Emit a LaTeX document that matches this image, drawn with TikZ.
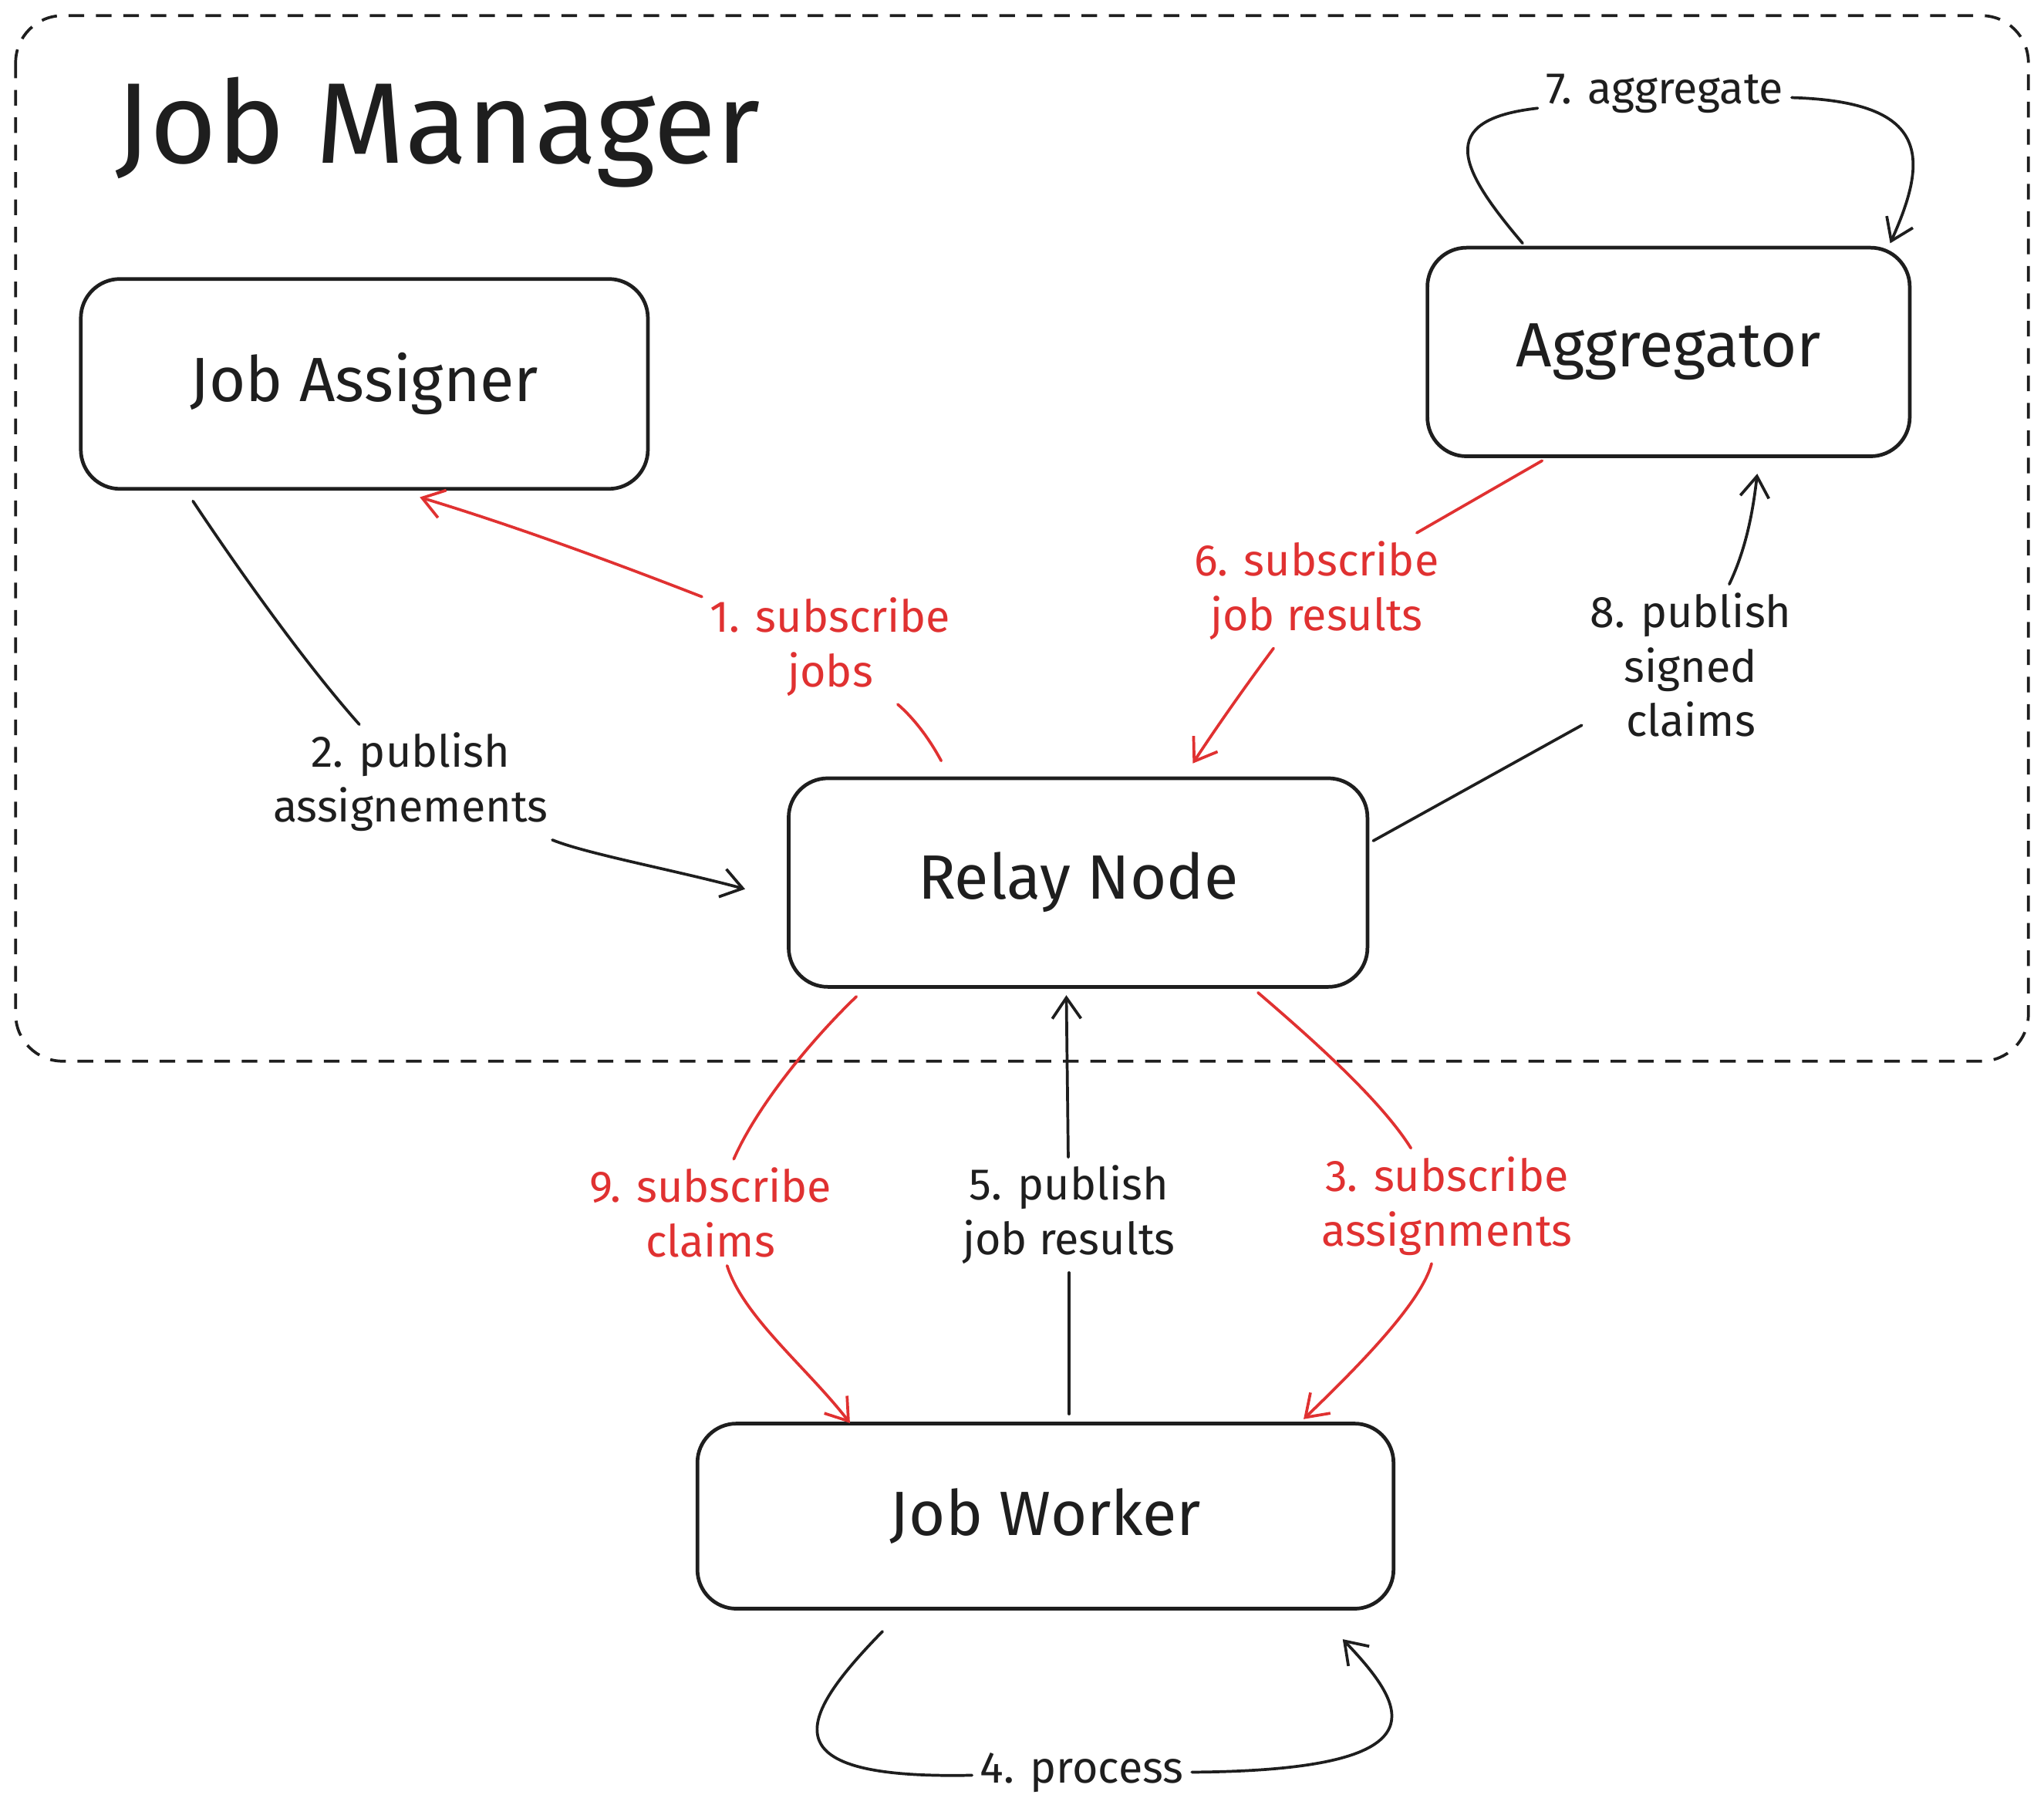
\documentclass[tikz,border=0pt]{standalone}
\usepackage{fontspec}
\setmainfont{Fira Sans}
\usetikzlibrary{arrows.meta,calc}
\definecolor{drawColor}{HTML}{1E1E1E}
\definecolor{redColor}{HTML}{E03131}

\begin{document}
\begin{tikzpicture}[x=0.5pt,y=-0.5pt,
  box/.style={draw=drawColor,line width=1.4pt,rounded corners=15pt,inner sep=0pt,
    text=drawColor,font=\fontsize{24}{28}\selectfont},
  lbl/.style={align=center,inner sep=3pt,text=drawColor,font=\fontsize{17}{21}\selectfont},
  redlbl/.style={lbl,text=redColor},
  conn/.style={draw=drawColor,line width=1.1pt,line cap=round},
  redconn/.style={conn,draw=redColor},
  tip/.style={-{Straight Barb[length=8pt,width=11pt]}}]
\path[use as bounding box] (0,0) rectangle (1568,1392);

% frame of the job manager
\draw[drawColor,line width=1.1pt,dash pattern=on 6pt off 4.5pt,rounded corners=18pt] (12,12) rectangle (1556,814);
\node[anchor=base west,inner sep=0pt,text=drawColor,font=\fontsize{44}{50}\selectfont] (title) at (88,125) {Job Manager};

% components
\node[box,minimum width=217.5pt,minimum height=80.5pt] (assigner) at (279.5,294.5) {Job Assigner};
\node[box,minimum width=185pt,minimum height=80pt] (aggregator) at (1280,270) {Aggregator};
\node[box,minimum width=222pt,minimum height=80pt] (relay) at (827,677) {Relay Node};
\node[box,minimum width=267pt,minimum height=71pt] (worker) at (802,1163) {Job Worker};

% step labels
\node[redlbl] (l1) at (637,496) {1. subscribe\\jobs};
\node[lbl] (l2) at (315,600) {2. publish\\assignements};
\node[redlbl] (l3) at (1110,925) {3. subscribe\\assignments};
\node[lbl] (l4) at (830,1360) {4. process};
\node[lbl] (l5) at (820,932) {5. publish\\job results};
\node[redlbl] (l6) at (1010,453) {6. subscribe\\job results};
\node[lbl] (l7) at (1277,72) {7. aggregate};
\node[lbl] (l8) at (1297,510) {8. publish\\signed\\claims};
\node[redlbl] (l9) at (545,930) {9. subscribe\\claims};

% end points near the boxes
\coordinate (s1) at ($(relay.north)+(-105,-12)$);
\coordinate (e1) at ($(assigner.south)+(42.5,5)$);
\coordinate (s2) at ($(assigner.south)+(-131.5,8)$);
\coordinate (e2) at ($(relay.west)+(-32,5)$);
\coordinate (s3) at ($(relay.south)+(138,3)$);
\coordinate (e3) at ($(worker.north)+(198,-2)$);
\coordinate (s4) at ($(worker.south)+(-125,16)$);
\coordinate (e4) at ($(worker.south)+(228,22)$);
\coordinate (s5) at ($(worker.north)+(18,-6)$);
\coordinate (e5) at ($(relay.south)+(-9,5)$);
\coordinate (s6) at ($(aggregator.south)+(-97,2)$);
\coordinate (e6) at ($(relay.north)+(88,-10)$);
\coordinate (s7) at ($(aggregator.north)+(-112,-2)$);
\coordinate (e7) at ($(aggregator.north)+(170,-2)$);
\coordinate (s8) at ($(relay.east)+(3,-32)$);
\coordinate (e8) at ($(aggregator.south)+(68,12)$);
\coordinate (s9) at ($(relay.south)+(-170,6)$);
\coordinate (e9) at ($(worker.north)+(-150,1)$);

% 1
\draw[redconn] (s1) .. controls (712,565) and (700,550) .. (l1);
\draw[redconn,tip] (l1) .. controls (480,435) and (400,405) .. (e1);
% 2
\draw[conn] (s2) .. controls (185,440) and (235,510) .. (l2);
\draw[conn,tip] (l2) .. controls (450,655) and (520,668) .. (e2);
% 3
\draw[redconn] (s3) .. controls (1010,800) and (1060,845) .. (l3);
\draw[redconn,tip] (l3) .. controls (1090,1000) and (1040,1050) .. (e3);
% 4
\draw[conn] (s4) .. controls (610,1320) and (590,1365) .. (l4);
\draw[conn,tip] (l4) .. controls (1110,1358) and (1080,1310) .. (e4);
% 5
\draw[conn] (s5) -- (l5);
\draw[conn,tip] (l5) -- (e5);
% 6
\draw[redconn] (s6) -- (l6);
\draw[redconn,tip] (l6) .. controls (960,520) and (935,555) .. (e6);
% 7
\draw[conn] (s7) .. controls (1120,130) and (1100,92) .. (l7);
\draw[conn,tip] (l7) .. controls (1480,78) and (1480,120) .. (e7);
% 8
\draw[conn] (s8) -- (l8);
\draw[conn,tip] (l8) .. controls (1340,420) and (1345,390) .. (e8);
% 9
\draw[redconn] (s9) .. controls (620,800) and (580,850) .. (l9);
\draw[redconn,tip] (l9) .. controls (570,1010) and (620,1050) .. (e9);
\end{tikzpicture}
\end{document}
